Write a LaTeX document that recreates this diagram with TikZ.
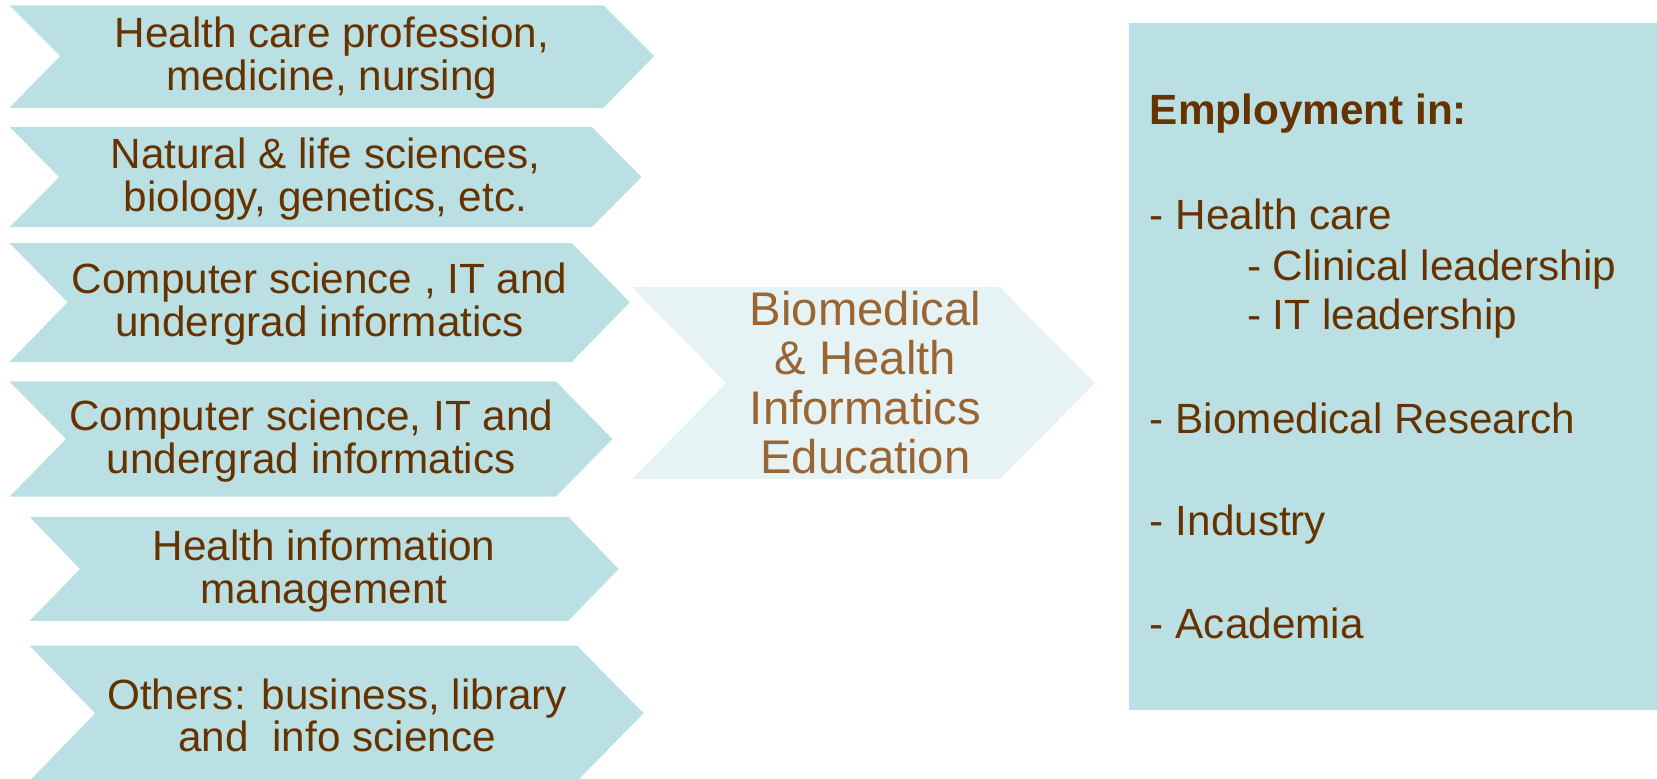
\documentclass[tikz,border=0pt]{standalone}
\usepackage{fontspec}
\setmainfont{Liberation Sans}
\usepackage{xcolor}
\usepackage{tikz}
\usetikzlibrary{positioning,calc}
\definecolor{chevfill}{HTML}{BAE0E4}
\definecolor{edufill}{HTML}{E6F3F5}
\definecolor{darkbrown}{HTML}{663300}
\definecolor{lightbrown}{HTML}{996633}

\begin{document}
\begin{tikzpicture}[
    x=1pt, y=-1pt,
    chevron/.style={fill=chevfill},
    edu/.style={fill=edufill},
    srclabel/.style={text=darkbrown, align=center, inner sep=0pt, yshift=-2pt, font=\fontsize{40}{40.5}\selectfont},
    edulabel/.style={text=lightbrown, align=center, inner sep=0pt, font=\fontsize{44.7}{46.7}\selectfont},
    joblabel/.style={text=darkbrown, anchor=base west, inner sep=0pt, font=\fontsize{40}{48}\selectfont}
]
    \clip (0,0) rectangle (1568,737);

    % backgrounds of the six study tracks
    \fill[chevron] (9,5) -- (571,5) -- (619,53) -- (571,102) -- (9,102) -- (57,53) -- cycle;
    \fill[chevron] (9,120) -- (560,120) -- (607,167.5) -- (560,215) -- (9,215) -- (56,167.5) -- cycle;
    \fill[chevron] (9,230) -- (541,230) -- (596,286) -- (541,342.5) -- (9,342.5) -- (64,286) -- cycle;
    \fill[chevron] (9,361) -- (526,361) -- (579.5,415.5) -- (526,470) -- (9,470) -- (62.5,415.5) -- cycle;
    \fill[chevron] (28,489) -- (537.6,489) -- (585.4,538.5) -- (537.6,587.6) -- (28,587.6) -- (75.7,538.5) -- cycle;
    \fill[chevron] (28,611) -- (546,611) -- (609,675) -- (546,739) -- (28,739) -- (90,675) -- cycle;

    \node[srclabel] (medicine) at (314,53) {Health care profession,\\medicine, nursing};
    \node[srclabel] (natural) at (308,167.5) {Natural \& life sciences,\\biology, genetics, etc.};
    \node[srclabel] (compsci) at (302.5,286) {Computer science , IT and\\undergrad informatics};
    \node[srclabel] (compsci2) at (294.5,415.5) {Computer science, IT and\\undergrad informatics};
    \node[srclabel] (him) at (306.6,538.5) {Health information\\management};
    \node[srclabel] (others) at (319,675) {Others: business, library\\and\ \ info science};

    % middle step
    \fill[edu] (598,271.6) -- (946,271.6) -- (1036,362.5) -- (946,453.4) -- (598,453.4) -- (687,362.5) -- cycle;
    \node[edulabel] (education) at (819,362) {Biomedical\\\& Health\\Informatics\\Education};

    % outcome box
    \fill[chevron] (1068,22) rectangle (1568,672);
    \node[joblabel] (employ) at (1088,118) {\textbf{Employment in:}};
    \node[joblabel] (hcare) at (1088,217) {- Health care};
    \node[joblabel] (clinical) at (1180,265) {- Clinical leadership};
    \node[joblabel] (itlead) at (1180,312) {- IT leadership};
    \node[joblabel] (biores) at (1088,410) {- Biomedical Research};
    \node[joblabel] (industry) at (1088,507) {- Industry};
    \node[joblabel] (academia) at (1088,604) {- Academia};
\end{tikzpicture}
\end{document}
